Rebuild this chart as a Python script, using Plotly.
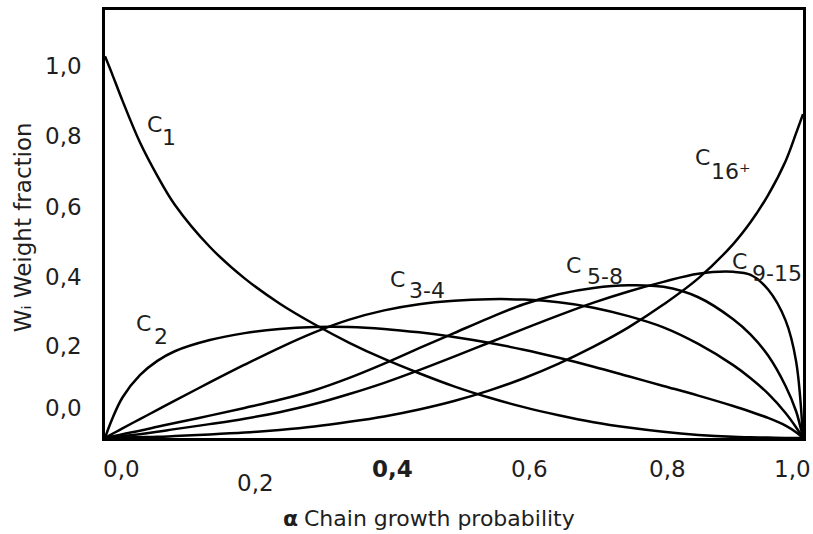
import plotly.graph_objects as go

# ---- data ----
alpha = [0, 0.01, 0.025, 0.05, 0.075, 0.10, 0.15, 0.20, 0.25, 0.30, 0.35, 0.40, 0.45, 0.50,
         0.55, 0.60, 0.65, 0.70, 0.75, 0.80, 0.85, 0.90, 0.925, 0.95, 0.975, 0.99, 1.0]

w_c1 = [0.99, 0.945, 0.875, 0.767, 0.680, 0.605, 0.496, 0.414, 0.349, 0.295, 0.247, 0.205, 0.168,
        0.134, 0.105, 0.080, 0.059, 0.041, 0.027, 0.016, 0.008, 0.003, 0.002, 0.001, 0.0, 0.0, 0.0]
w_c2 = [0.0, 0.048, 0.105, 0.163, 0.200, 0.225, 0.254, 0.272, 0.283, 0.288, 0.288, 0.283, 0.274,
        0.262, 0.247, 0.229, 0.208, 0.185, 0.160, 0.135, 0.110, 0.083, 0.068, 0.052, 0.032, 0.015, 0.0]
w_c3_4 = [0.0, 0.010, 0.025, 0.049, 0.073, 0.097, 0.144, 0.190, 0.234, 0.274, 0.307, 0.331, 0.347,
          0.356, 0.360, 0.359, 0.352, 0.338, 0.316, 0.287, 0.244, 0.189, 0.155, 0.115, 0.065, 0.028, 0.0]
w_c5_8 = [0.0, 0.004, 0.010, 0.019, 0.029, 0.039, 0.058, 0.078, 0.099, 0.124, 0.156, 0.193, 0.233,
          0.272, 0.311, 0.347, 0.373, 0.389, 0.396, 0.392, 0.365, 0.308, 0.268, 0.214, 0.135, 0.070, 0.0]
w_c9_15 = [0.0, 0.002, 0.005, 0.010, 0.016, 0.023, 0.036, 0.050, 0.067, 0.088, 0.114, 0.143, 0.176,
           0.211, 0.247, 0.283, 0.318, 0.351, 0.380, 0.405, 0.426, 0.431, 0.423, 0.385, 0.305, 0.200, 0.0]
w_c16p = [0.0, 0.0004, 0.001, 0.002, 0.003, 0.005, 0.009, 0.014, 0.021, 0.030, 0.042, 0.056, 0.074,
          0.096, 0.123, 0.155, 0.193, 0.237, 0.287, 0.346, 0.414, 0.503, 0.560, 0.630, 0.718, 0.790, 0.840]

series = [w_c1, w_c2, w_c3_4, w_c5_8, w_c9_15, w_c16p]
series_names = ["C1", "C2", "C3-4", "C5-8", "C9-15", "C16+"]

y_tick_labels = ["1,0", "0,8", "0,6", "0,4", "0,2", "0,0"]
x_tick_labels = ["0,0", "0,2", "0,4", "0,6", "0,8", "1,0"]
curve_label_main = ["C", "C", "C", "C", "C", "C"]
curve_label_sub = ["1", "2", "3-4", "5-8", "9-15", "16\u207a"]
x_title_symbol = "\u03b1"
x_title_text = "Chain growth probability"
y_title_text = "W\u1d62 Weight fraction"

# ---- layout geometry (pixels) ----
W, H = 813, 534
L, R, T, B = 105, 7, 8, 96
PW, PH = W - L - R, H - T - B
FONT = "DejaVu Sans"
FS = 22
COL = "#1e1e1e"


def px(x):
    return (x - L) / PW


def py(y):
    return (H - B - y) / PH


fig = go.Figure()
for vals, name in zip(series, series_names):
    fig.add_trace(go.Scatter(x=alpha, y=vals, mode="lines", name=name,
                             line=dict(color="black", width=2.5, shape="spline", smoothing=1.0),
                             hoverinfo="skip"))

ann = []


def add(text, x, y, size=FS, xanchor="center", weight="normal", angle=0):
    ann.append(dict(text=text, x=px(x), y=py(y), xanchor=xanchor, yanchor="middle",
                    xref="paper", yref="paper", showarrow=False, textangle=angle,
                    font=dict(family=FONT, size=size, color=COL, weight=weight)))


# y tick labels
y_tick_px = [64, 135, 206, 276, 346, 408]
for lab, yy in zip(y_tick_labels, y_tick_px):
    add(lab, 84, yy, size=23, xanchor="right")
# x tick labels
x_tick_px = [122, 256, 394, 531, 670, 795]
x_tick_py = [469, 483, 469, 469, 469, 469]
for lab, xx, yy in zip(x_tick_labels, x_tick_px, x_tick_py):
    add(lab, xx, yy, size=23, weight="bold" if lab == "0,4" else "normal")
# axis titles
add(x_title_symbol, 291, 519, weight="bold")
add(x_title_text, 441, 519)
add(y_title_text, 23, 226, size=23, angle=-90)
# curve labels
main_pos = [(154.5, 123), (143.5, 323), (398.5, 279), (575.5, 265), (742.5, 261), (705, 156)]
sub_pos = [(169, 136), (161.5, 336), (428, 290), (607, 276), (780, 273), (734, 170)]
for m, s, (mx, my), (sx, sy) in zip(curve_label_main, curve_label_sub, main_pos, sub_pos):
    add(m, mx, my)
    add(s, sx, sy)

fig.update_layout(
    width=W, height=H, margin=dict(l=L, r=R, t=T, b=B),
    paper_bgcolor="white", plot_bgcolor="white", showlegend=False,
    annotations=ann,
    xaxis=dict(range=[0, 1], showgrid=False, zeroline=False, showticklabels=False, ticks="",
               showline=True, linecolor="black", linewidth=3, mirror=True),
    yaxis=dict(range=[0, 1.11], showgrid=False, zeroline=False, showticklabels=False, ticks="",
               showline=True, linecolor="black", linewidth=3, mirror=True),
)

fig.write_html("out.html")
